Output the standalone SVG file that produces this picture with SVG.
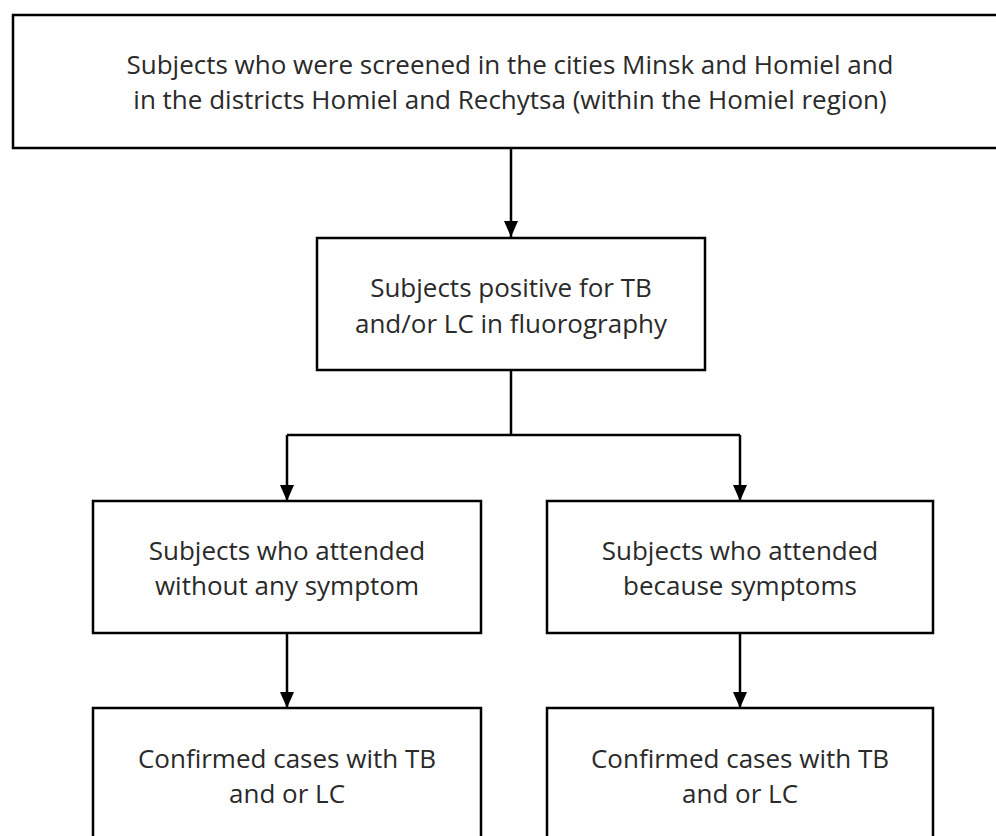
<svg xmlns="http://www.w3.org/2000/svg" width="996" height="836" viewBox="0 0 996 836">
<defs>
<marker id="ah" markerWidth="16" markerHeight="16" viewBox="0 0 16 16" refX="16" refY="8" orient="auto" markerUnits="userSpaceOnUse">
<path d="M0,1 L16,8 L0,15 Z" fill="#000"/>
</marker>
<style>
.box{fill:#fff;stroke:#000;stroke-width:2.5}
.t{font-family:"Open Sans","Noto Sans",sans-serif;font-size:26px;fill:#2a2a2a;text-anchor:middle}
.c{fill:none;stroke:#000;stroke-width:2.5}
</style>
</defs>
<rect width="996" height="836" fill="#fff"/>
<g id="connectors">
<path class="c" d="M511,148 V237" marker-end="url(#ah)"/>
<path class="c" d="M511,370 V435"/>
<path class="c" d="M287,435 H740"/>
<path class="c" d="M287,435 V501" marker-end="url(#ah)"/>
<path class="c" d="M740,435 V501" marker-end="url(#ah)"/>
<path class="c" d="M287,633 V708" marker-end="url(#ah)"/>
<path class="c" d="M740,633 V708" marker-end="url(#ah)"/>
</g>
<g id="n1">
<rect class="box" x="13" y="15" width="1000" height="133"/>
<text class="t" x="510" y="74">Subjects who were screened in the cities Minsk and Homiel and</text>
<text class="t" x="510" y="109">in the districts Homiel and Rechytsa (within the Homiel region)</text>
</g>
<g id="n2">
<rect class="box" x="317" y="238" width="388" height="132"/>
<text class="t" x="511" y="297">Subjects positive for TB</text>
<text class="t" x="511" y="333">and/or LC in fluorography</text>
</g>
<g id="n3">
<rect class="box" x="93" y="501" width="388" height="132"/>
<text class="t" x="287" y="560">Subjects who attended</text>
<text class="t" x="287" y="595">without any symptom</text>
</g>
<g id="n4">
<rect class="box" x="547" y="501" width="386" height="132"/>
<text class="t" x="740" y="560">Subjects who attended</text>
<text class="t" x="740" y="595">because symptoms</text>
</g>
<g id="n5">
<rect class="box" x="93" y="708" width="388" height="140"/>
<text class="t" x="287" y="768">Confirmed cases with TB</text>
<text class="t" x="287" y="803">and or LC</text>
</g>
<g id="n6">
<rect class="box" x="547" y="708" width="386" height="140"/>
<text class="t" x="740" y="768">Confirmed cases with TB</text>
<text class="t" x="740" y="803">and or LC</text>
</g>
</svg>
